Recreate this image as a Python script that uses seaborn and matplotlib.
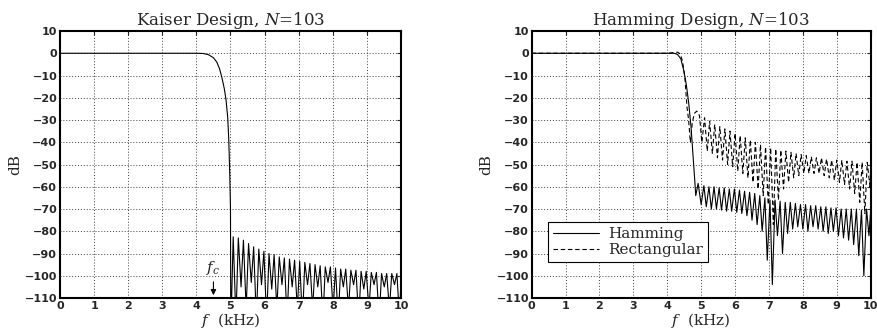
import matplotlib
matplotlib.use("Agg")
import matplotlib.pyplot as plt
import seaborn as sns
import pandas as pd

# ---- data (f in kHz, magnitude in dB) ----
# Kaiser design: passband + transition
kaiser_edge_f = [0, 1, 2, 3, 4, 4.2, 4.35, 4.5, 4.6, 4.68, 4.75, 4.82, 4.87, 4.92, 4.95, 4.98, 5.0, 5.01]
kaiser_edge_db = [0, 0, 0, 0, 0, -0.1, -0.6, -2, -4, -7, -11, -16, -21, -29, -39, -55, -70, -125]
# Kaiser stopband lobes
kaiser_peak_f = [5.08, 5.23, 5.38, 5.53, 5.68, 5.83, 5.98, 6.13, 6.28, 6.43, 6.58, 6.73, 6.88,
                 7.03, 7.18, 7.33, 7.48, 7.63, 7.78, 7.93, 8.08, 8.23, 8.38, 8.53, 8.68, 8.83,
                 8.98, 9.13, 9.28, 9.43, 9.58, 9.73, 9.88]
kaiser_peak_db = [-82.5, -83, -84, -85.5, -87, -88, -89, -90, -90.5, -91.5, -92, -92.5, -93,
                  -93.5, -94, -94.5, -95, -95.5, -96, -96, -96.5, -97, -97, -97.5, -97.5, -98,
                  -98, -98.5, -98.5, -99, -99, -99, -99]
kaiser_null_f = [5.16, 5.31, 5.46, 5.61, 5.76, 5.91, 6.06, 6.21, 6.36, 6.51, 6.66, 6.81, 6.96,
                 7.11, 7.26, 7.41, 7.56, 7.71, 7.86, 8.01, 8.16, 8.31, 8.46, 8.61, 8.76, 8.91,
                 9.06, 9.21, 9.36, 9.51, 9.66, 9.81, 9.96]
kaiser_null_db = [-120, -105, -115, -103, -120, -104, -120, -106, -115, -104, -120, -105, -115,
                  -120, -104, -115, -105, -120, -103, -115, -120, -105, -115, -104, -120, -106,
                  -115, -104, -120, -105, -115, -104, -120]
kaiser_end = (10.0, -100)

# Hamming design
ham_edge_f = [0, 1, 2, 3, 4, 4.2, 4.3, 4.4, 4.49, 4.56, 4.63, 4.7, 4.76, 4.81, 4.84, 4.91]
ham_edge_db = [0, 0, 0, 0, 0, 0, -0.5, -2.5, -8, -14, -22, -33, -46, -57, -64, -58.5]
ham_null_f = [5.00, 5.15, 5.30, 5.45, 5.60, 5.75, 5.90, 6.05, 6.20, 6.35, 6.50, 6.65, 6.80,
              6.95, 7.10, 7.25, 7.40, 7.55, 7.70, 7.85, 8.00, 8.15, 8.30, 8.45, 8.60, 8.75,
              8.90, 9.05, 9.20, 9.35, 9.50, 9.65, 9.80, 9.95]
ham_null_db = [-68, -69, -70, -70, -70.5, -71, -71, -71.5, -72, -73, -75, -77, -80,
               -93, -104, -82, -90, -81, -79, -78, -79, -80, -78, -79, -80, -81,
               -80, -82, -83, -84, -86, -91, -100, -82]
ham_peak_f = [5.08, 5.23, 5.38, 5.53, 5.68, 5.83, 5.98, 6.13, 6.28, 6.43, 6.58, 6.73, 6.88,
              7.03, 7.18, 7.33, 7.48, 7.63, 7.78, 7.93, 8.08, 8.23, 8.38, 8.53, 8.68, 8.83,
              8.98, 9.13, 9.28, 9.43, 9.58, 9.73, 9.88, 10.0]
ham_peak_db = [-59.5, -60, -60, -60.5, -60.5, -61, -61, -61.5, -62, -62.5, -63, -64, -65,
               -66, -66, -66.5, -67, -67, -67.5, -68, -68, -68.5, -68.5, -69, -69, -69.5,
               -69.5, -70, -70, -70, -70, -70.5, -70, -71]

# Rectangular window
rect_edge_f = [0, 1, 2, 3, 4, 4.2, 4.3, 4.38, 4.45, 4.52, 4.58, 4.63, 4.68, 4.74, 4.8, 4.87,
               4.95, 5.02]
rect_edge_db = [0, 0, 0, 0, 0, 0.3, 0.5, -0.3, -3.5, -11, -24, -30, -40, -31, -27, -26, -28, -40]
rect_peak_f = [5.10, 5.25, 5.40, 5.55, 5.70, 5.85, 6.00, 6.15, 6.30, 6.45, 6.60, 6.75, 6.90,
               7.05, 7.20, 7.35, 7.50, 7.65, 7.80, 7.95, 8.10, 8.25, 8.40, 8.55, 8.70, 8.85,
               9.00, 9.15, 9.30, 9.45, 9.60, 9.75, 9.90]
rect_peak_db = [-29, -30.5, -32, -33, -34, -35, -36, -37, -38, -39, -40, -41, -42,
                -42.5, -43, -43.5, -44, -44.5, -45, -45.5, -46, -46.5, -47, -47, -47.5, -48,
                -48, -48, -48.5, -48.5, -49, -49, -49]
rect_null_f = [5.18, 5.33, 5.48, 5.63, 5.78, 5.93, 6.08, 6.23, 6.38, 6.53, 6.68, 6.83, 6.98,
               7.13, 7.28, 7.43, 7.58, 7.73, 7.88, 8.03, 8.18, 8.33, 8.48, 8.63, 8.78, 8.93,
               9.08, 9.23, 9.38, 9.53, 9.68, 9.83, 9.98]
rect_null_db = [-44, -45, -47, -48, -50, -51, -53, -54, -56, -58, -61, -64, -68,
                -77, -66, -61, -58, -56, -55, -54, -54, -54, -54, -55, -56, -57,
                -58, -59, -61, -63, -67, -72, -60]
rect_end = (10.0, -52)

xticks = list(range(0, 11))
yticks = list(range(-110, 11, 10))


def build(edge_f, edge_db, a_f, a_db, b_f, b_db, end=None):
    # edge, then alternate lobes a/b, then the end point
    f = list(edge_f)
    db = list(edge_db)
    for i in range(len(a_f)):
        f += [a_f[i], b_f[i]]
        db += [a_db[i], b_db[i]]
    if end is not None:
        f.append(end[0])
        db.append(end[1])
    return pd.DataFrame({"f": f, "dB": db})


kaiser = build(kaiser_edge_f, kaiser_edge_db, kaiser_peak_f, kaiser_peak_db,
               kaiser_null_f, kaiser_null_db, kaiser_end)
hamming = build(ham_edge_f, ham_edge_db, ham_null_f, ham_null_db,
                ham_peak_f, ham_peak_db)
rect = build(rect_edge_f, rect_edge_db, rect_peak_f, rect_peak_db,
             rect_null_f, rect_null_db, rect_end)

sns.set_style("white")
plt.rcParams["font.family"] = ["DejaVu Serif"]
plt.rcParams["mathtext.fontset"] = "dejavuserif"

fig = plt.figure(figsize=(8.78, 3.31), dpi=100)
ax1 = fig.add_axes([0.0683, 0.0997, 0.3884, 0.8066])
ax2 = fig.add_axes([0.6056, 0.0997, 0.386, 0.8066])

sns.lineplot(data=kaiser, x="f", y="dB", ax=ax1, color="k", lw=0.8,
             estimator=None, sort=False)
sns.lineplot(data=rect, x="f", y="dB", ax=ax2, color="k", lw=0.8,
             estimator=None, sort=False, label="Rectangular")
ax2.lines[-1].set_dashes((4, 2.5))
sns.lineplot(data=hamming, x="f", y="dB", ax=ax2, color="k", lw=0.8,
             estimator=None, sort=False, label="Hamming")

for ax, title in [(ax1, "Kaiser Design, $N$=103"), (ax2, "Hamming Design, $N$=103")]:
    ax.set_xlim(0, 10)
    ax.set_ylim(-110, 10)
    ax.set_xticks(xticks)
    ax.set_yticks(yticks)
    ax.set_axisbelow(True)
    ax.grid(True, linestyle=(0, (1, 2)), color="0.25", linewidth=0.7)
    for s in ax.spines.values():
        s.set_color("k")
        s.set_linewidth(1.5)
    ax.tick_params(direction="in", length=3, width=0.8, top=True, right=True,
                   labelsize=8, pad=2)
    for lab in ax.get_xticklabels() + ax.get_yticklabels():
        lab.set_fontfamily("DejaVu Sans")
        lab.set_fontweight("bold")
    ax.set_title(title, fontsize=12, pad=4)
    ax.set_xlabel("$f$  (kHz)", fontsize=11, labelpad=0)
    ax.set_ylabel("dB", fontsize=11, labelpad=2)

# cutoff marker
ax1.annotate("", xy=(4.5, -110), xytext=(4.5, -101.5),
             arrowprops=dict(arrowstyle="-|>", color="k", lw=0.8, mutation_scale=8))
ax1.text(4.5, -96.5, "$f_c$", ha="center", va="center", fontsize=11)

handles, labels = ax2.get_legend_handles_labels()
order = [labels.index("Hamming"), labels.index("Rectangular")]
leg = ax2.legend([handles[i] for i in order], [labels[i] for i in order],
                 loc="lower left", bbox_to_anchor=(0.048, 0.135), borderaxespad=0,
                 fontsize=11, handlelength=3.0, labelspacing=0.12, borderpad=0.32,
                 handletextpad=0.6, fancybox=False, framealpha=1, edgecolor="k")
leg.get_frame().set_linewidth(0.8)

fig.savefig("out.png", dpi=100)
